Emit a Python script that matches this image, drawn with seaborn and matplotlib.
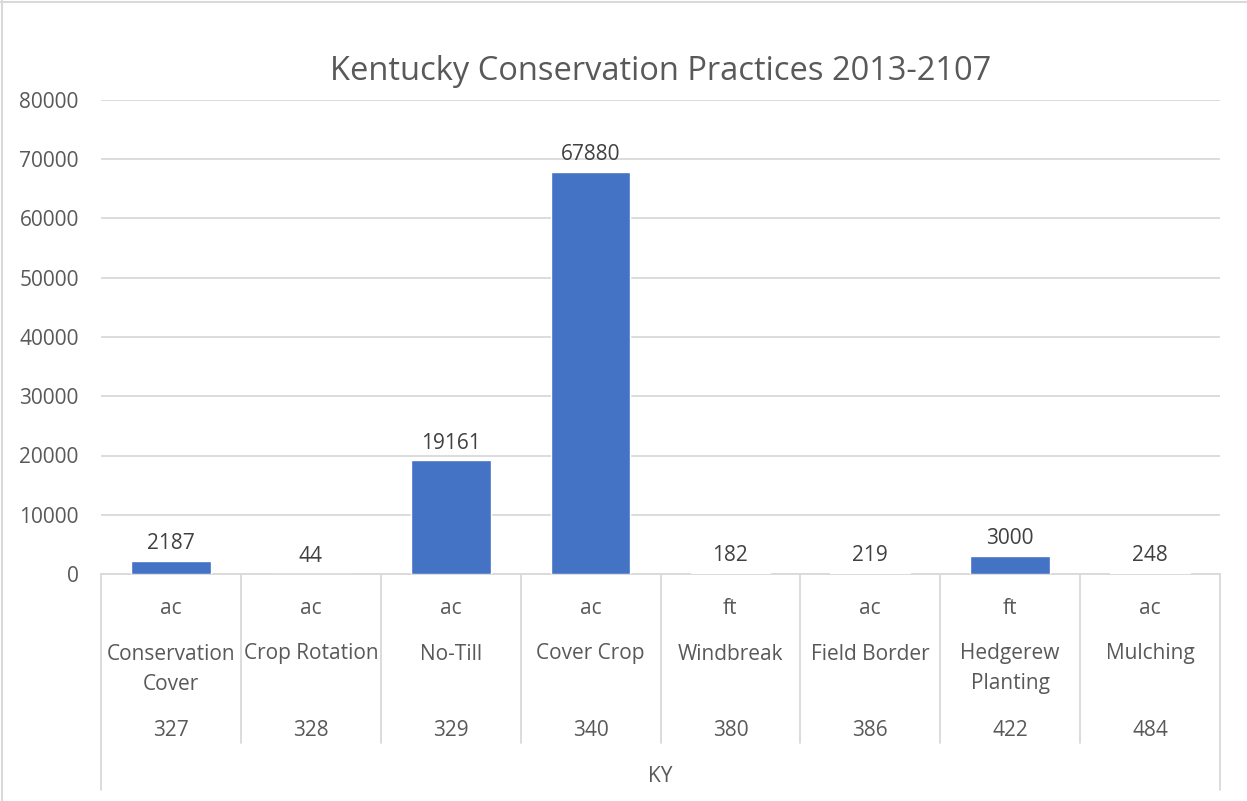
import matplotlib
matplotlib.use("Agg")
import matplotlib.pyplot as plt
import matplotlib.transforms as mtransforms
from matplotlib.lines import Line2D
import seaborn as sns
import pandas as pd

# Data
practice_codes = ["327", "328", "329", "340", "380", "386", "422", "484"]
practice_names = ["Conservation\nCover", "Crop Rotation", "No-Till", "Cover Crop",
                  "Windbreak", "Field Border", "Hedgerew\nPlanting", "Mulching"]
units = ["ac", "ac", "ac", "ac", "ft", "ac", "ft", "ac"]
amounts = [2187, 44, 19161, 67880, 182, 219, 3000, 248]
state = "KY"
title = "Kentucky Conservation Practices 2013-2107"
y_ticks = [0, 10000, 20000, 30000, 40000, 50000, 60000, 70000, 80000]

df = pd.DataFrame({"code": practice_codes, "amount": amounts})

sns.set_theme(style="white")
plt.rcParams["font.family"] = ["Open Sans", "DejaVu Sans"]

BAR = "#4472C4"
GRID = "#D9D9D9"
TXT = "#595959"
LBL = "#404040"
FS = 15

W, H = 1247, 801
fig = plt.figure(figsize=(W / 100, H / 100), dpi=100)
left, right, top, bottom = 101, 1220, 100, 574
ax = fig.add_axes([left / W, 1 - bottom / H, (right - left) / W, (bottom - top) / H])

sns.barplot(data=df, x="code", y="amount", order=practice_codes, color=BAR,
            saturation=1, width=0.57, ax=ax, zorder=3)

ax.set_xlim(-0.5, len(practice_codes) - 0.5)
ax.set_ylim(0, 80000)
ax.set_yticks(y_ticks)
ax.set_yticklabels([str(t) for t in y_ticks], fontsize=FS, color=TXT)
ax.tick_params(axis="y", length=0, pad=16)
ax.set_xticks([])
ax.set_xlabel("")
ax.set_ylabel("")
ax.yaxis.grid(True, color=GRID, linewidth=1.3, zorder=0)
for s in ["left", "right", "top"]:
    ax.spines[s].set_visible(False)
ax.spines["bottom"].set_color(GRID)
ax.spines["bottom"].set_linewidth(1.3)

# Value labels above the bars
for i, v in enumerate(amounts):
    ax.annotate(str(v), xy=(i, v), xytext=(0, 5), textcoords="offset points",
                ha="center", va="bottom", fontsize=FS, color=LBL)

# Multi-level category axis
ph = bottom - top
def ay(px):
    return (bottom - px) / ph

trans = mtransforms.blended_transform_factory(ax.transData, ax.transAxes)
n = len(practice_codes)
for k in range(n + 1):
    x = k - 0.5
    end = ay(790) if k in (0, n) else ay(743)
    ax.add_line(Line2D([x, x], [0, end], transform=trans, color=GRID,
                       linewidth=1.3, clip_on=False))

for i in range(n):
    ax.text(i, ay(608), units[i], transform=trans, ha="center", va="center",
            fontsize=FS, color=TXT)
    for j, line in enumerate(practice_names[i].split("\n")):
        ax.text(i, ay(654 + 30 * j), line, transform=trans, ha="center",
                va="center", fontsize=FS, color=TXT)
    ax.text(i, ay(730), practice_codes[i], transform=trans, ha="center",
            va="center", fontsize=FS, color=TXT)

ax.text((n - 1) / 2, ay(777), state, transform=trans, ha="center", va="center",
        fontsize=FS, color=TXT)

fig.text(661 / W, 1 - 72 / H, title, ha="center", va="center", fontsize=23.5,
         color=TXT)

# Chart frame
fig.add_artist(Line2D([0, 1], [1 - 1.5 / H, 1 - 1.5 / H], transform=fig.transFigure,
                      color=GRID, linewidth=1.5))
fig.add_artist(Line2D([1.5 / W, 1.5 / W], [0, 1], transform=fig.transFigure,
                      color=GRID, linewidth=1.5))

fig.savefig("out.png", dpi=100)
